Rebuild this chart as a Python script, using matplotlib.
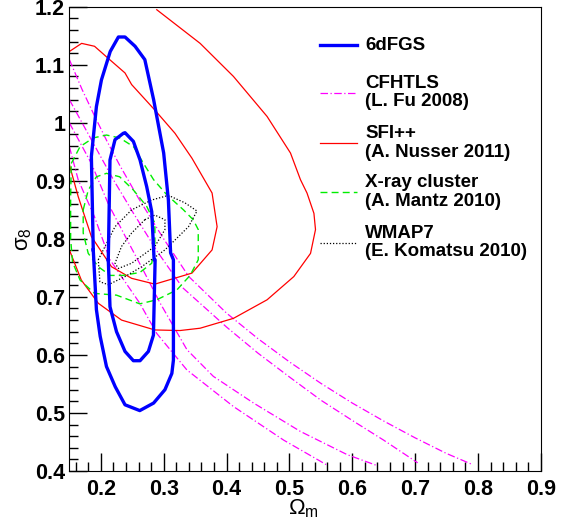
import matplotlib
matplotlib.use("Agg")
import matplotlib.pyplot as plt
import numpy as np

plt.rcParams['font.family'] = ['Liberation Sans', 'DejaVu Sans']
plt.rcParams['mathtext.fontset'] = 'custom'
plt.rcParams['mathtext.rm'] = 'Liberation Sans'
plt.rcParams['mathtext.it'] = 'Liberation Sans'

# 6dFGS contours (Omega_m, sigma_8)
dfgs_outer_x = [0.188, 0.185, 0.193, 0.201, 0.215, 0.228, 0.2385, 0.2545, 0.270, 0.284, 0.300, 0.3075, 0.311,
                0.3155, 0.3155, 0.313, 0.302, 0.284, 0.262, 0.2385, 0.223, 0.209, 0.199, 0.193, 0.188]
dfgs_outer_y = [0.781, 0.942, 1.028, 1.074, 1.123, 1.148, 1.148, 1.132, 1.109, 1.040, 0.948, 0.867, 0.776,
                0.764, 0.591, 0.568, 0.540, 0.517, 0.504, 0.514, 0.545, 0.580, 0.632, 0.678, 0.781]
dfgs_inner_x = [0.2119, 0.2146, 0.2226, 0.2358, 0.2385, 0.2518, 0.2624, 0.273, 0.281, 0.2848, 0.2864,
                0.2837, 0.2757, 0.2624, 0.2518, 0.2385, 0.225, 0.2146, 0.2119]
dfgs_inner_y = [0.764, 0.936, 0.971, 0.982, 0.983, 0.968, 0.936, 0.890, 0.847, 0.764, 0.764,
                0.634, 0.606, 0.590, 0.590, 0.606, 0.640, 0.683, 0.764]

# CFHTLS (4 open lines)
cfht1_x = [0.150, 0.164, 0.190, 0.2146, 0.262, 0.289, 0.337, 0.411, 0.491, 0.560]
cfht1_y = [0.959, 0.902, 0.838, 0.764, 0.689, 0.637, 0.574, 0.511, 0.453, 0.410]
cfht2_x = [0.150, 0.185, 0.212, 0.241, 0.268, 0.294, 0.337, 0.379, 0.443, 0.5176, 0.592, 0.640]
cfht2_y = [1.000, 0.930, 0.860, 0.800, 0.745, 0.690, 0.609, 0.563, 0.517, 0.468, 0.428, 0.409]
cfht3_x = [0.150, 0.188, 0.220, 0.252, 0.290, 0.330, 0.400, 0.450, 0.500, 0.550, 0.600, 0.650, 0.704]
cfht3_y = [1.040, 0.965, 0.902, 0.844, 0.778, 0.716, 0.648, 0.603, 0.562, 0.522, 0.487, 0.453, 0.414]
cfht4_x = [0.150, 0.170, 0.190, 0.210, 0.230, 0.260, 0.300, 0.340, 0.400, 0.450, 0.500, 0.550, 0.600,
           0.650, 0.700, 0.750, 0.789]
cfht4_y = [1.109, 1.058, 1.012, 0.968, 0.927, 0.870, 0.800, 0.735, 0.672, 0.628, 0.588, 0.551, 0.517,
           0.486, 0.457, 0.430, 0.412]

# SFI++
sfi_inner_x = [0.150, 0.1695, 0.190, 0.212, 0.2385, 0.249, 0.286, 0.318, 0.345, 0.377, 0.385, 0.377, 0.345,
               0.286, 0.249, 0.217, 0.185, 0.164, 0.150]
sfi_inner_y = [1.123, 1.137, 1.132, 1.111, 1.086, 1.066, 1.022, 0.982, 0.939, 0.879, 0.821, 0.781, 0.741,
               0.722, 0.732, 0.752, 0.804, 0.873, 0.928]
sfi_outer_x = [0.150, 0.169, 0.196, 0.233, 0.286, 0.326, 0.358, 0.411, 0.4645, 0.507, 0.5336, 0.5415, 0.539,
               0.528, 0.5176, 0.5017, 0.4645, 0.411, 0.358, 0.289]
sfi_outer_y = [0.781, 0.729, 0.689, 0.660, 0.643, 0.642, 0.646, 0.663, 0.695, 0.735, 0.775, 0.816, 0.844,
               0.879, 0.902, 0.948, 1.011, 1.080, 1.137, 1.195]

# X-ray cluster
xray_outer_x = [0.153, 0.167, 0.188, 0.209, 0.230, 0.252, 0.268, 0.284, 0.305, 0.3315, 0.347, 0.355, 0.355,
                0.342, 0.321, 0.289, 0.262, 0.225, 0.190, 0.167, 0.155, 0.152, 0.152, 0.153]
xray_outer_y = [0.930, 0.959, 0.974, 0.979, 0.974, 0.959, 0.930, 0.902, 0.876, 0.850, 0.833, 0.816, 0.764,
                0.737, 0.712, 0.695, 0.688, 0.703, 0.706, 0.729, 0.760, 0.800, 0.870, 0.930]
xray_inner_x = [0.172, 0.180, 0.193, 0.209, 0.230, 0.252, 0.273, 0.286, 0.286, 0.281, 0.262, 0.235, 0.215,
                0.196, 0.180, 0.172, 0.172]
xray_inner_y = [0.850, 0.884, 0.907, 0.913, 0.907, 0.884, 0.856, 0.827, 0.787, 0.758, 0.742, 0.737, 0.737,
                0.752, 0.775, 0.810, 0.850]

# WMAP7
wmap_outer_x = [0.196, 0.2226, 0.249, 0.281, 0.3075, 0.334, 0.353, 0.3395, 0.302, 0.265, 0.2385, 0.212,
                0.1986, 0.196]
wmap_outer_y = [0.764, 0.821, 0.850, 0.867, 0.875, 0.862, 0.848, 0.821, 0.781, 0.752, 0.735, 0.721,
                0.726, 0.764]
wmap_inner_x = [0.270, 0.286, 0.302, 0.302, 0.286, 0.249, 0.228, 0.2226, 0.233, 0.249, 0.270]
wmap_inner_y = [0.833, 0.841, 0.833, 0.816, 0.787, 0.758, 0.749, 0.758, 0.787, 0.810, 0.833]

legend_labels = ['6dFGS', 'CFHTLS\n(L. Fu 2008)', 'SFI++\n(A. Nusser 2011)',
                 'X-ray cluster\n(A. Mantz 2010)', 'WMAP7\n(E. Komatsu 2010)']

fig = plt.figure(figsize=(5.64, 5.25), dpi=100)
ax = fig.add_axes([0.123, 0.103, 0.836, 0.884])

dashdot = (0, (6, 2, 1, 2))
st = {
    'cfht': dict(color='#ff00ff', lw=0.9, linestyle=dashdot),
    'sfi': dict(color='#ff0000', lw=0.9),
    'xray': dict(color='#00ee00', lw=1.0, linestyle=(0, (5, 3))),
    'wmap': dict(color='black', lw=0.9, linestyle=(0, (1, 1.5))),
    'dfgs': dict(color='#0000ff', lw=2.4),
}
for x, y in [(cfht1_x, cfht1_y), (cfht2_x, cfht2_y), (cfht3_x, cfht3_y), (cfht4_x, cfht4_y)]:
    ax.plot(x, y, **st['cfht'])
for x, y in [(sfi_inner_x, sfi_inner_y), (sfi_outer_x, sfi_outer_y)]:
    ax.plot(x, y, **st['sfi'])
for x, y in [(xray_outer_x, xray_outer_y), (xray_inner_x, xray_inner_y)]:
    ax.plot(x, y, **st['xray'])
for x, y in [(wmap_outer_x, wmap_outer_y), (wmap_inner_x, wmap_inner_y)]:
    ax.plot(x, y, **st['wmap'])
for x, y in [(dfgs_outer_x, dfgs_outer_y), (dfgs_inner_x, dfgs_inner_y)]:
    ax.plot(x, y, **st['dfgs'])

ax.set_xlim(0.15, 0.9)
ax.set_ylim(0.4, 1.2)
ax.set_xticks(np.arange(0.2, 0.91, 0.1))
ax.set_yticks(np.arange(0.4, 1.21, 0.1))
ax.set_xticks(np.arange(0.16, 0.9, 0.02), minor=True)
ax.set_yticks(np.arange(0.4, 1.2, 0.02), minor=True)
ax.set_xticklabels(['0.2', '0.3', '0.4', '0.5', '0.6', '0.7', '0.8', '0.9'])
ax.set_yticklabels(['0.4', '0.5', '0.6', '0.7', '0.8', '0.9', '1', '1.1', '1.2'])
ax.tick_params(which='major', direction='in', length=13, width=1, labelsize=15.5)
ax.tick_params(axis='x', which='major', pad=6)
ax.tick_params(axis='y', which='major', pad=3)
ax.tick_params(which='minor', direction='in', length=6.5, width=1)
for lab in ax.get_xticklabels() + ax.get_yticklabels():
    lab.set_fontweight('bold')

ax.set_xlabel(r'$\Omega_{\rm m}$', fontsize=16)
ax.xaxis.set_label_coords(0.497, -0.058)
ax.set_ylabel(r'$\sigma_{8}$', fontsize=16)
ax.yaxis.set_label_coords(-0.075, 0.5)

# legend drawn by hand, positions in axes fraction
leg_keys = ['dfgs', 'cfht', 'sfi', 'xray', 'wmap']
leg_rows = [0.917, 0.815, 0.706, 0.601, 0.492]
for key, lab, yy in zip(leg_keys, legend_labels, leg_rows):
    ax.plot([0.531, 0.610], [yy, yy], transform=ax.transAxes, **st[key])
    ax.text(0.627, yy, lab, transform=ax.transAxes, ha='left', va='center',
            fontsize=13.5, fontweight='bold', linespacing=1.12)

plt.savefig('out.png', dpi=100)
